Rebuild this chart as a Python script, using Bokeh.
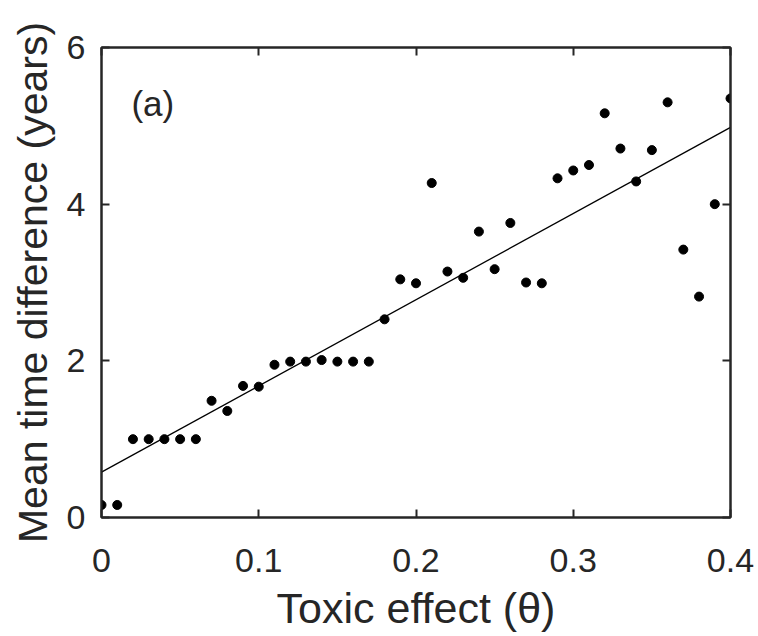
from bokeh.plotting import figure
from bokeh.models import Range1d, FixedTicker, LinearAxis, Label
from bokeh.embed import file_html
from bokeh.resources import INLINE

theta = [0.00, 0.01, 0.02, 0.03, 0.04, 0.05, 0.06, 0.07, 0.08, 0.09,
         0.10, 0.11, 0.12, 0.13, 0.14, 0.15, 0.16, 0.17, 0.18, 0.19,
         0.20, 0.21, 0.22, 0.23, 0.24, 0.25, 0.26, 0.27, 0.28, 0.29,
         0.30, 0.31, 0.32, 0.33, 0.34, 0.35, 0.36, 0.37, 0.38, 0.39, 0.40]
mean_diff = [0.16, 0.16, 1.00, 1.00, 1.00, 1.00, 1.00, 1.49, 1.36, 1.68,
             1.67, 1.95, 1.99, 1.99, 2.01, 1.99, 1.99, 1.99, 2.53, 3.04,
             2.99, 4.27, 3.14, 3.06, 3.65, 3.17, 3.76, 3.00, 2.99, 4.33,
             4.43, 4.50, 5.16, 4.71, 4.29, 4.69, 5.30, 3.42, 2.82, 4.00, 5.35]
fit_x = [0.0, 0.4]
fit_y = [0.58, 4.98]

x_ticks = [0, 0.1, 0.2, 0.3, 0.4]
x_tick_labels = ["0", "0.1", "0.2", "0.3", "0.4"]
y_ticks = [0, 2, 4, 6]
y_tick_labels = ["0", "2", "4", "6"]

FONT = "Liberation Sans"
AX = "#262626"

p = figure(width=758, height=636, output_backend="svg", toolbar_location=None,
           x_range=Range1d(0, 0.4), y_range=Range1d(0, 6),
           min_border_left=101, min_border_right=28, min_border_top=47,
           min_border_bottom=119)
p.background_fill_color = "white"
p.border_fill_color = "white"
p.outline_line_color = AX
p.outline_line_width = 2
p.grid.visible = False

def style_axis(ax, ticks, labels, show_labels=True):
    ax.ticker = FixedTicker(ticks=ticks)
    ax.major_label_overrides = {t: l for t, l in zip(ticks, labels)}
    ax.major_tick_in = 8
    ax.major_tick_out = 0
    ax.minor_tick_in = 0
    ax.minor_tick_out = 0
    ax.axis_line_color = AX
    ax.axis_line_width = 2
    ax.major_tick_line_color = AX
    ax.major_tick_line_width = 2
    ax.major_label_text_font = FONT
    if show_labels:
        ax.major_label_text_font_size = "34px"
        ax.major_label_text_color = AX
    else:
        ax.major_label_text_font_size = "10px"
        ax.major_label_text_color = None
        ax.major_label_standoff = 0

style_axis(p.xaxis[0], x_ticks, x_tick_labels)
style_axis(p.yaxis[0], y_ticks, y_tick_labels)
p.xaxis[0].major_label_standoff = 31
p.yaxis[0].major_label_standoff = 16

p.xaxis[0].axis_label = "Toxic effect (θ)"
p.yaxis[0].axis_label = "Mean time difference (years)"
for ax in (p.xaxis[0], p.yaxis[0]):
    ax.axis_label_text_font = FONT
    ax.axis_label_text_font_style = "normal"
    ax.axis_label_text_color = AX
p.xaxis[0].axis_label_text_font_size = "43px"
p.yaxis[0].axis_label_text_font_size = "41px"
p.xaxis[0].axis_label_standoff = 9
p.yaxis[0].axis_label_standoff = 8

top_ax = LinearAxis()
style_axis(top_ax, x_ticks, x_tick_labels, show_labels=False)
p.add_layout(top_ax, "above")
right_ax = LinearAxis()
style_axis(right_ax, y_ticks, y_tick_labels, show_labels=False)
p.add_layout(right_ax, "right")

p.line(fit_x, fit_y, line_color="black", line_width=1.3)
p.scatter(theta, mean_diff, size=9, fill_color="black", line_color="black")

p.add_layout(Label(x=0.019, y=5.29, text="(a)", text_font=FONT,
                   text_font_size="35px", text_color=AX,
                   text_baseline="alphabetic"))

open("out.html", "w").write(file_html(p, INLINE))
